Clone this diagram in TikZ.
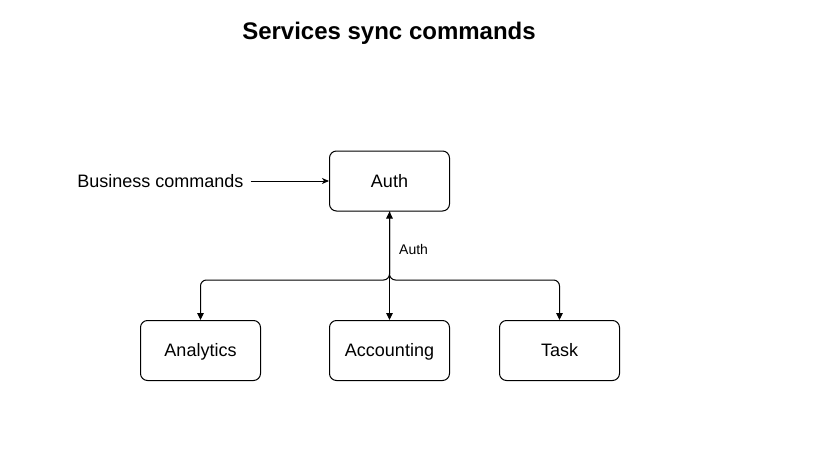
\documentclass[tikz,border=0pt]{standalone}
\usepackage{fontspec}
\setmainfont{Liberation Sans}
\usetikzlibrary{arrows.meta}
\tikzset{
  box/.style={draw=black, line width=1pt, rounded corners=7pt, minimum width=120pt, minimum height=60pt, inner sep=0pt, font=\fontsize{18}{21}\selectfont, text height=12.9pt, text depth=0pt, fill=white},
  conn/.style={line width=1pt, draw=black},
  tip/.style={-{Triangle[length=7pt,width=6.5pt]}},
  lbl/.style={font=\fontsize{18}{21}\selectfont, inner sep=0pt, text height=12.9pt, text depth=0pt},
}
\begin{document}
\begin{tikzpicture}[x=1pt,y=-1pt]
\useasboundingbox (0,0) rectangle (827,460);
\node[font=\bfseries\fontsize{24}{28}\selectfont, inner sep=0pt, text height=17.2pt, text depth=0pt] (title) at (389,30.5) {Services sync commands};
\node[box] (auth) at (389.5,181) {Auth};
\node[box] (ana) at (200.5,350.5) {Analytics};
\node[box] (acc) at (389.5,350.5) {Accounting};
\node[box] (task) at (559.5,350.5) {Task};
\node[lbl] (bc) at (160.5,181) {Business commands};
\coordinate (j) at (389.5,280);
\draw[conn, -{Stealth[length=7pt,width=6pt,inset=2pt]}] ([xshift=7pt]bc.east) -- (auth.west);
\draw[conn, {Triangle[length=7pt,width=6.5pt]}-{Triangle[length=7pt,width=6.5pt]}] (auth.south) -- (acc.north);
\draw[conn, tip, rounded corners=6pt] (auth.south) -- (j) -- (ana.north |- j) -- (ana.north);
\draw[conn, tip, rounded corners=6pt] (auth.south) -- (j) -- (task.north |- j) -- (task.north);
\node[font=\fontsize{14}{16}\selectfont, inner sep=0pt, text height=10pt, text depth=0pt, anchor=west] (elbl) at (399,249) {Auth};
\end{tikzpicture}
\end{document}
